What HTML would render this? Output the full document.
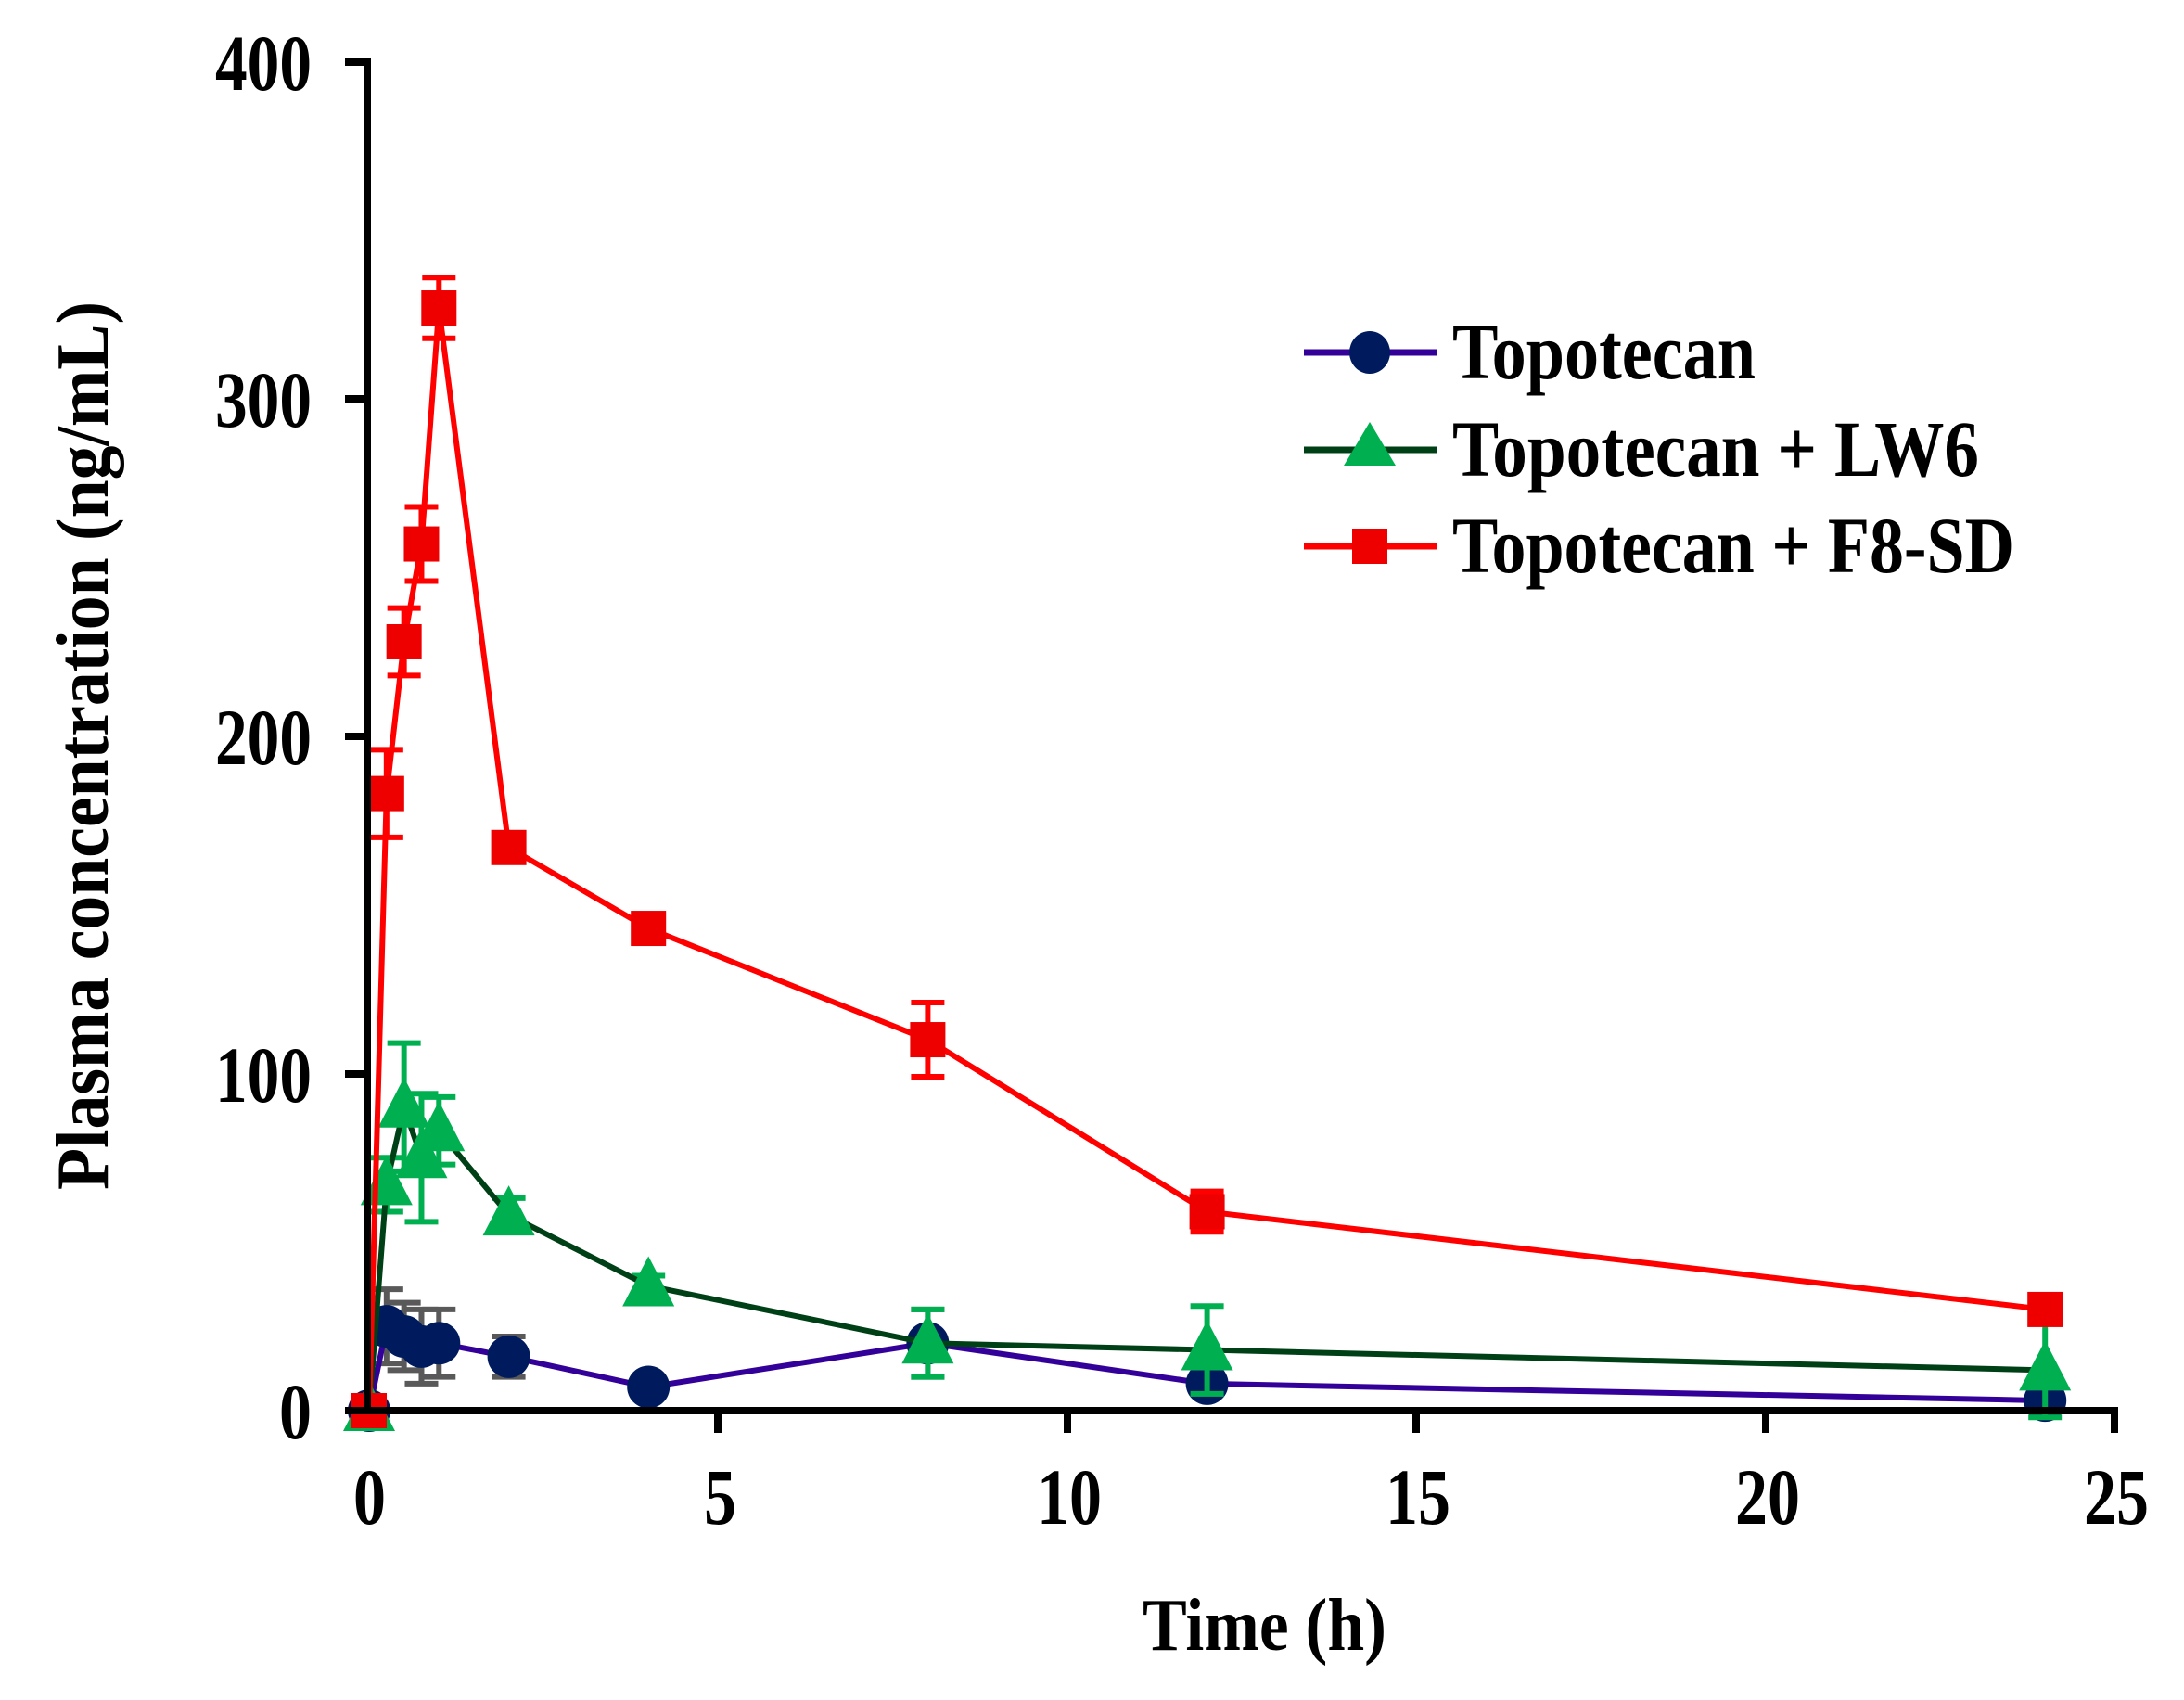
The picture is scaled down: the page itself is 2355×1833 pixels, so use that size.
<!DOCTYPE html>
<html><head><meta charset="utf-8"><style>
html,body{margin:0;padding:0;background:#fff;}
svg{display:block;}
text{font-family:"Liberation Serif",serif;font-weight:bold;fill:#000;}
</style></head><body>
<svg id="s" width="2355" height="1833" viewBox="0 0 2355 1833" xmlns="http://www.w3.org/2000/svg">
<rect width="2355" height="1833" fill="#fff"/>
<g id="data"></g>
<!-- axes -->
<line x1="396" y1="62" x2="396" y2="1525" stroke="#000" stroke-width="8"/>
<line x1="392" y1="1521" x2="2284" y2="1521" stroke="#000" stroke-width="8"/>
<g stroke="#000" stroke-width="8">
<line x1="372" y1="67" x2="396" y2="67"/>
<line x1="372" y1="430" x2="396" y2="430"/>
<line x1="372" y1="794" x2="396" y2="794"/>
<line x1="372" y1="1158" x2="396" y2="1158"/>
<line x1="372" y1="1521" x2="396" y2="1521"/>
<line x1="774" y1="1521" x2="774" y2="1545"/>
<line x1="1151" y1="1521" x2="1151" y2="1545"/>
<line x1="1527" y1="1521" x2="1527" y2="1545"/>
<line x1="1904" y1="1521" x2="1904" y2="1545"/>
<line x1="2280" y1="1521" x2="2280" y2="1545"/>
</g>
<g font-size="86">
<text x="232" y="97" textLength="104" lengthAdjust="spacingAndGlyphs">400</text>
<text x="232" y="460" textLength="104" lengthAdjust="spacingAndGlyphs">300</text>
<text x="232" y="824" textLength="104" lengthAdjust="spacingAndGlyphs">200</text>
<text x="232" y="1188" textLength="104" lengthAdjust="spacingAndGlyphs">100</text>
<text x="301" y="1551" textLength="35" lengthAdjust="spacingAndGlyphs">0</text>
</g>
<g font-size="86">
<text x="381" y="1643" textLength="35" lengthAdjust="spacingAndGlyphs">0</text>
<text x="759" y="1643" textLength="35" lengthAdjust="spacingAndGlyphs">5</text>
<text x="1118" y="1643" textLength="70" lengthAdjust="spacingAndGlyphs">10</text>
<text x="1494" y="1643" textLength="70" lengthAdjust="spacingAndGlyphs">15</text>
<text x="1871" y="1643" textLength="70" lengthAdjust="spacingAndGlyphs">20</text>
<text x="2247" y="1643" textLength="70" lengthAdjust="spacingAndGlyphs">25</text>
</g>
<text x="1232" y="1779" font-size="80" textLength="263" lengthAdjust="spacingAndGlyphs">Time (h)</text>
<text transform="translate(116,1283) rotate(-90)" font-size="80" textLength="958" lengthAdjust="spacingAndGlyphs">Plasma concentration (ng/mL)</text>
<!-- legend -->
<line x1="1406" y1="380" x2="1550" y2="380" stroke="#330099" stroke-width="7"/>
<ellipse cx="1477" cy="380" rx="22" ry="23" fill="#001A5E"/>
<line x1="1406" y1="485" x2="1550" y2="485" stroke="#004016" stroke-width="7"/>
<polygon points="1477,455 1449,502 1505,502" fill="#00B050"/>
<line x1="1406" y1="589" x2="1550" y2="589" stroke="#FF0000" stroke-width="7"/>
<rect x="1458" y="570" width="38" height="38" fill="#EE0000"/>
<g font-size="86">
<text x="1566" y="408" textLength="327" lengthAdjust="spacingAndGlyphs">Topotecan</text>
<text x="1566" y="513" textLength="568" lengthAdjust="spacingAndGlyphs">Topotecan + LW6</text>
<text x="1566" y="617" textLength="606" lengthAdjust="spacingAndGlyphs">Topotecan + F8-SD</text>
</g>
</svg>
<script>
var NS="http://www.w3.org/2000/svg",g=document.getElementById("data");
function X(t){return 398+75.3*t;}function Y(v){return 1521-3.636*v;}
function el(n,a){var e=document.createElementNS(NS,n);for(var k in a)e.setAttribute(k,a[k]);g.appendChild(e);return e;}
var T=[0,.25,.5,.75,1,2,4,8,12,24];
var S=[
{v:[0,25,22,19,20,16,7,20,8,3],e:[0,11,10,11,10,6,2,10,3,2],lc:"#330099",ec:"#595959",m:"c",mc:"#001A5E"},
{v:[0,67,90,75,83,58,37,20,18,12],e:[0,8,19,19,10,5,3,10,13,14],lc:"#004016",ec:"#00B050",m:"t",mc:"#00B050"},
{v:[0,183,228,257,327,167,143,110,59,30],e:[0,13,10,11,9,4,3,11,6,3],lc:"#FF0000",ec:"#FF0000",m:"s",mc:"#EE0000"}];
S.forEach(function(s){
 T.forEach(function(t,i){if(!s.e[i])return;var x=X(t),y1=Y(s.v[i]+s.e[i]),y2=Y(s.v[i]-s.e[i]);
  el("line",{x1:x,y1:y1,x2:x,y2:y2,stroke:s.ec,"stroke-width":6});
  el("line",{x1:x-18,y1:y1,x2:x+18,y2:y1,stroke:s.ec,"stroke-width":6});
  el("line",{x1:x-18,y1:y2,x2:x+18,y2:y2,stroke:s.ec,"stroke-width":6});});
 el("polyline",{points:T.map(function(t,i){return X(t)+","+Y(s.v[i]);}).join(" "),fill:"none",stroke:s.lc,"stroke-width":6});
 T.forEach(function(t,i){var x=X(t),y=Y(s.v[i]);
  if(s.m=="c")el("circle",{cx:x,cy:y,r:23,fill:s.mc});
  else if(s.m=="t")el("polygon",{points:(x)+","+(y-32)+" "+(x-28)+","+(y+22)+" "+(x+28)+","+(y+22),fill:s.mc});
  else el("rect",{x:x-19,y:y-19,width:38,height:38,fill:s.mc});});
});
</script>
</body></html>
